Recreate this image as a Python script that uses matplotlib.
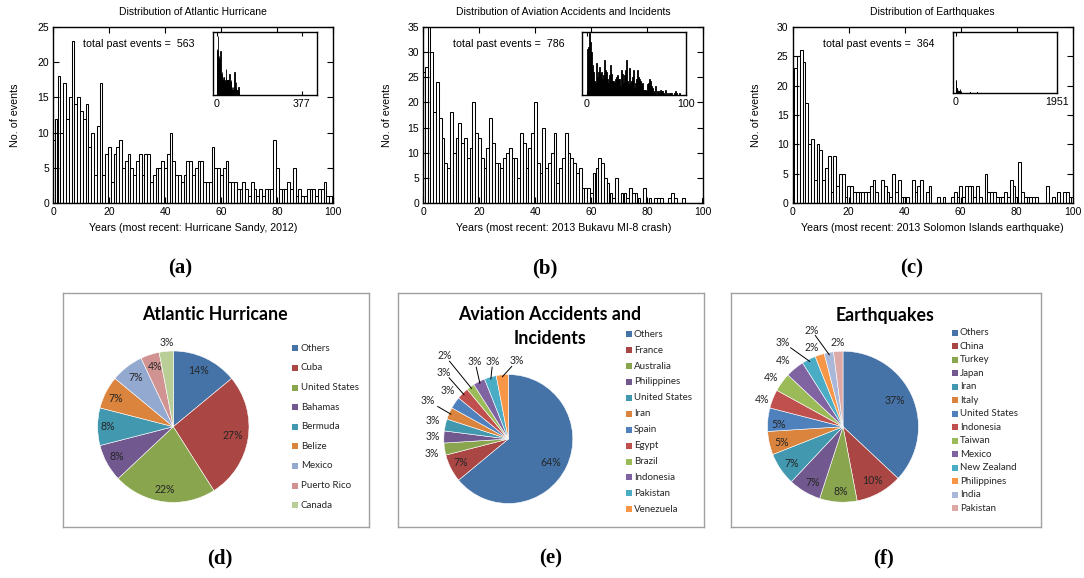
import matplotlib
matplotlib.use("Agg")
import matplotlib.pyplot as plt
import numpy as np
from matplotlib.patches import Rectangle

# ---------------- DATA ----------------
years = list(range(0, 101))

hurricane_counts = [9, 12, 18, 10, 17, 12, 15, 23, 14, 15,
                    13, 12, 14, 8, 10, 4, 11, 17, 4, 7,
                    8, 3, 7, 8, 9, 5, 6, 7, 5, 4,
                    6, 7, 4, 7, 7, 3, 4, 5, 5, 6,
                    5, 7, 10, 6, 4, 4, 3, 4, 6, 6,
                    4, 5, 6, 6, 3, 3, 3, 8, 5, 5,
                    4, 5, 6, 3, 3, 3, 2, 2, 3, 2,
                    1, 3, 2, 1, 2, 1, 2, 2, 2, 9,
                    5, 2, 2, 2, 3, 2, 5, 1, 2, 1,
                    1, 2, 2, 2, 1, 2, 2, 3, 1, 1,
                    1]

aviation_counts = [26, 27, 35, 30, 18, 24, 17, 13, 8, 7,
                   18, 10, 13, 16, 12, 13, 9, 11, 20, 14,
                   13, 9, 7, 11, 17, 12, 8, 8, 7, 9,
                   10, 11, 9, 9, 5, 14, 12, 7, 11, 14,
                   20, 8, 6, 15, 7, 8, 10, 14, 4, 7,
                   9, 14, 10, 9, 8, 6, 7, 3, 3, 3,
                   2, 6, 7, 9, 8, 5, 4, 2, 1, 5,
                   0, 2, 2, 1, 3, 2, 2, 1, 0, 3,
                   0, 1, 0, 1, 1, 1, 0, 0, 1, 2,
                   1, 0, 0, 1, 0, 0, 0, 0, 0, 0,
                   1]

quake_counts = [19, 23, 25, 26, 24, 17, 10, 11, 4, 10,
                9, 4, 6, 8, 2, 8, 3, 5, 5, 1,
                3, 3, 2, 2, 2, 2, 2, 2, 3, 4,
                2, 0, 4, 3, 2, 1, 5, 2, 4, 1,
                1, 1, 0, 4, 2, 3, 4, 0, 2, 3,
                0, 0, 1, 0, 1, 0, 0, 1, 2, 1,
                3, 1, 3, 3, 3, 1, 3, 1, 0, 5,
                2, 2, 2, 1, 1, 1, 2, 1, 4, 3,
                1, 7, 2, 1, 1, 1, 1, 1, 0, 0,
                0, 3, 0, 1, 0, 2, 0, 2, 2, 1,
                1]
quake_tail_years = [130, 280, 415, 1100]
quake_tail_counts = [1, 1, 1, 1]

hist_titles = ["Distribution of Atlantic Hurricane",
               "Distribution of Aviation Accidents and Incidents",
               "Distribution of Earthquakes"]
hist_xlabels = ["Years (most recent: Hurricane Sandy, 2012)",
                "Years (most recent: 2013 Bukavu MI-8 crash)",
                "Years (most recent: 2013 Solomon Islands earthquake)"]
hist_totals = [563, 786, 364]
hist_ymax = [25, 35, 30]
inset_xmax_label = [377, 100, 1951]

hur_names = ["Others", "Cuba", "United States", "Bahamas", "Bermuda", "Belize",
             "Mexico", "Puerto Rico", "Canada"]
hur_pct = [14, 27, 22, 8, 8, 7, 7, 4, 3]

avi_names = ["Others", "France", "Australia", "Philippines", "United States", "Iran",
             "Spain", "Egypt", "Brazil", "Indonesia", "Pakistan", "Venezuela"]
avi_pct = [64, 7, 3, 3, 3, 3, 3, 3, 2, 3, 3, 3]

eq_names = ["Others", "China", "Turkey", "Japan", "Iran", "Italy", "United States",
            "Indonesia", "Taiwan", "Mexico", "New Zealand", "Philippines", "India", "Pakistan"]
eq_pct = [37, 10, 8, 7, 7, 5, 5, 4, 4, 4, 3, 2, 2, 2]

# ---------------- LAYOUT ----------------
W, H = 1084, 578
fig = plt.figure(figsize=(W / 100, H / 100), dpi=100)
fig.patch.set_facecolor("white")
SANS = "Liberation Sans"


def px_axes(l, t, r, b):
    return fig.add_axes([l / W, 1 - b / H, (r - l) / W, (b - t) / H])


hist_boxes = [(53.3, 26.7, 333.3, 203.3), (423.3, 26.7, 703.3, 203.3), (792.7, 26.7, 1072.7, 203.3)]
inset_boxes = [(213.3, 32.0, 316.7, 95.0), (581.7, 32.0, 686.0, 95.0), (952.7, 32.0, 1056.7, 93.0)]
inset_xlims = [(-15, 443), (-5.4, 100), (-65, 1951)]
inset_ylims = [(0, 24.5), (0, 35.5), (0, 120)]
total_text_x = [83, 453.3, 823.3]
ylabel_px = [15, 386.7, 756]

hist_data = [hurricane_counts, aviation_counts, quake_counts]

for i in range(3):
    l, t, r, b = hist_boxes[i]
    ax = px_axes(l, t, r, b)
    ax.bar(years, hist_data[i], width=1.0, facecolor="white", edgecolor="black", linewidth=0.75)
    ax.set_xlim(0, 100)
    ax.set_ylim(0, hist_ymax[i])
    ax.set_xticks(range(0, 101, 20))
    ax.set_yticks(range(0, hist_ymax[i] + 1, 5))
    ax.tick_params(direction="in", top=True, right=True, length=4, width=0.8,
                   labelsize=7.5, pad=3)
    for lab in ax.get_xticklabels() + ax.get_yticklabels():
        lab.set_fontfamily(SANS)
    for s in ax.spines.values():
        s.set_linewidth(1.0)
    wpx, hpx = r - l, b - t
    ax.text(0.5, 1 + (t - 11.7) / hpx, hist_titles[i], transform=ax.transAxes,
            ha="center", va="center", fontsize=7.5, family=SANS)
    ax.text(0.5, -(228.3 - b) / hpx, hist_xlabels[i], transform=ax.transAxes,
            ha="center", va="center", fontsize=7.7, family=SANS)
    ax.text((ylabel_px[i] - l) / wpx, 0.5, "No. of events", transform=ax.transAxes,
            ha="center", va="center", rotation=90, fontsize=7.7, family=SANS)
    ax.text((total_text_x[i] - l) / wpx, 1 - (44.3 - t) / hpx,
            "total past events =  %d" % hist_totals[i], transform=ax.transAxes,
            ha="left", va="center", fontsize=7.7, family=SANS)

    # inset
    il, it, ir, ib = inset_boxes[i]
    ins = px_axes(il, it, ir, ib)
    ins.bar(years, hist_data[i], width=1.0, color="black", edgecolor="black", linewidth=0.6)
    if i == 2:
        ins.bar(quake_tail_years, quake_tail_counts, width=8, color="black")
    ins.set_xlim(*inset_xlims[i])
    ins.set_ylim(*inset_ylims[i])
    ins.set_xticks([0, inset_xmax_label[i]])
    ins.set_xticklabels(["0", str(inset_xmax_label[i])])
    ins.set_yticks([])
    ins.tick_params(direction="in", top=True, length=3, width=0.8, labelsize=7.7, pad=3)
    for lab in ins.get_xticklabels():
        lab.set_fontfamily(SANS)
    for s in ins.spines.values():
        s.set_linewidth(1.0)

# panel letters
for lab, x, y in [("(a)", 180, 268), ("(b)", 545, 268), ("(c)", 912, 268),
                  ("(d)", 220, 558), ("(e)", 551, 558), ("(f)", 884, 558)]:
    fig.text(x / W, 1 - y / H, lab, ha="center", va="center", fontsize=15,
             family="Liberation Serif", weight="bold")

# ---------------- PIES ----------------
dark6 = ["#4572A7", "#AA4643", "#89A54E", "#71588F", "#4198AF", "#DB843D"]
norm6 = ["#4F81BD", "#C0504D", "#9BBB59", "#8064A2", "#4BACC6", "#F79646"]
hur_colors = dark6 + ["#93A9CF", "#D19392", "#B9CD96"]
avi_colors = dark6 + norm6
eq_colors = dark6 + norm6 + ["#A9B8D9", "#DDA9A7"]

pie_specs = [
    dict(box=(62.7, 293, 369.3, 527), center=(173.3, 426.7), r=75.7,
         names=hur_names, pct=hur_pct, colors=hur_colors,
         title=["Atlantic Hurricane"], title_xy=(215, 315),
         leg_sq_x=291.7, leg_txt_x=300.7, leg_y0=348.3, leg_dy=19.6,
         labels=[(198.3, 371), (232.7, 435.7), (164.3, 489.3), (116.7, 456.7), (107.7, 426.7),
                 (116, 399), (135.3, 377.3), (155.3, 366), (166.7, 342.3)],
         leaders=[]),
    dict(box=(397.7, 293, 704.3, 527), center=(508.3, 439), r=64.5,
         names=avi_names, pct=avi_pct, colors=avi_colors,
         title=["Aviation Accidents and", "Incidents"], title_xy=(550, 315),
         leg_sq_x=626, leg_txt_x=634, leg_y0=334.3, leg_dy=15.9,
         labels=[(550.7, 462.3), (460.7, 462.3), (432.3, 453.3), (433.3, 436.7), (433.3, 420),
                 (428.3, 401), (447.7, 390), (444.3, 372.3), (445, 355.7), (475, 361.7),
                 (492.7, 361.7), (516.7, 361)],
         leaders=[5, 7, 8, 9, 10, 11]),
    dict(box=(730.7, 293, 1040.7, 527), center=(843, 426.7), r=75.5,
         names=eq_names, pct=eq_pct, colors=eq_colors,
         title=["Earthquakes"], title_xy=(884.7, 315),
         leg_sq_x=952, leg_txt_x=960, leg_y0=332.7, leg_dy=13.5,
         labels=[(894.7, 401), (873, 480.7), (841.3, 491.7), (813, 482.7), (791.3, 463.3),
                 (781.3, 442.3), (779, 424.3), (762.3, 399.3), (771.3, 377.7), (783, 361),
                 (783, 342.3), (811.3, 347.3), (811.3, 330), (837.3, 342.3)],
         leaders=[10, 12]),
]

PIEFONT = "Lato"
for spec in pie_specs:
    l, t, r, b = spec["box"]
    ax = px_axes(l, t, r, b)
    cx, cy = spec["center"]
    wedges, _ = ax.pie(spec["pct"], colors=spec["colors"], startangle=90, counterclock=False,
                       center=(cx, H - cy), radius=spec["r"],
                       wedgeprops=dict(edgecolor="white", linewidth=0.4))
    ax.set_xlim(l, r)
    ax.set_ylim(H - b, H - t)
    ax.set_xticks([])
    ax.set_yticks([])
    ax.set_frame_on(True)
    for s in ax.spines.values():
        s.set_color("#A0A0A0")
        s.set_linewidth(1.0)

    # title
    tx, ty = spec["title_xy"]
    for k, line in enumerate(spec["title"]):
        ax.text(tx, H - (ty + 23.3 * k), line, ha="center", va="center", fontsize=12.8,
                family=PIEFONT, weight="bold", color="black")

    # percentage labels
    for k, (w, (lx, ly)) in enumerate(zip(wedges, spec["labels"])):
        ax.text(lx, H - ly, "%d%%" % spec["pct"][k], ha="center", va="center",
                fontsize=7.6, family=PIEFONT, color="#262626")
        if k in spec["leaders"]:
            mid = np.deg2rad((w.theta1 + w.theta2) / 2)
            ex = cx + 0.97 * spec["r"] * np.cos(mid)
            ey = (H - cy) + 0.97 * spec["r"] * np.sin(mid)
            dx, dy = ex - lx, ey - (H - ly)
            s_ = min(9.5 / max(abs(dx), 1e-6), 5.5 / max(abs(dy), 1e-6))
            sx, sy = lx + dx * s_, (H - ly) + dy * s_
            ax.plot([sx, ex], [sy, ey], color="black", lw=0.7)

    # legend
    for k, name in enumerate(spec["names"]):
        yy = H - (spec["leg_y0"] + spec["leg_dy"] * k)
        ax.add_patch(Rectangle((spec["leg_sq_x"], yy - 3), 6, 6, facecolor=spec["colors"][k],
                               edgecolor="none"))
        ax.text(spec["leg_txt_x"], yy, name, ha="left", va="center", fontsize=7.0,
                family=PIEFONT, color="#262626")

fig.savefig("out.png", dpi=100, facecolor="white")
